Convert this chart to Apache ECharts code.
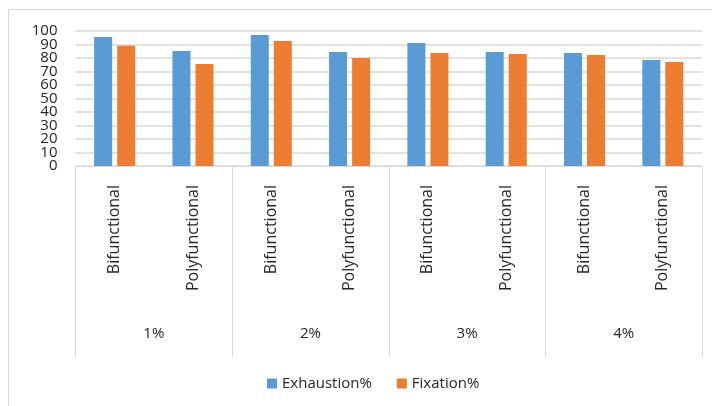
<!DOCTYPE html>
<html>
<head>
<meta charset="utf-8">
<script src="https://cdn.jsdelivr.net/npm/echarts@6/dist/echarts.min.js"></script>
<style>html,body{margin:0;padding:0;background:#fff;}#c{width:712px;height:406px;}</style>
</head>
<body>
<div id="c"></div>
<script>
const subCategories = ['Bifunctional','Polyfunctional','Bifunctional','Polyfunctional','Bifunctional','Polyfunctional','Bifunctional','Polyfunctional'];
const groups = ['1%','2%','3%','4%'];
const exhaustion = [95.5, 85.2, 97.0, 84.4, 91.1, 84.4, 83.7, 78.5];
const fixation = [89.0, 75.6, 92.6, 80.0, 83.7, 83.0, 82.2, 77.0];
const yTicks = [0,10,20,30,40,50,60,70,80,90,100];

const FONT = 'Open Sans';
const TXT = '#262626';
const yLabelStyle = {fontSize: 15, color: TXT, fontFamily: FONT, margin: 18};
const chart = echarts.init(document.getElementById('c'), null, {renderer:'canvas'});
chart.setOption({
  animation: false,
  textStyle: {fontFamily: FONT},
  graphic: [{
    type: 'rect', shape: {x: 8.5, y: 9.5, width: 800, height: 600},
    style: {fill: 'none', stroke: '#d9d9d9', lineWidth: 1}, silent: true
  }],
  grid: {left: 75.5, right: 10, top: 31, bottom: 240, containLabel: false},
  legend: {
    data: ['Exhaustion%','Fixation%'],
    top: 371, left: 262,
    itemWidth: 10, itemHeight: 10, itemGap: 25,
    icon: 'rect',
    textStyle: {fontFamily: FONT, fontSize: 15, color: TXT}
  },
  xAxis: [{
    type: 'category', data: subCategories, position: 'bottom',
    axisLine: {show: true, lineStyle: {color: '#d9d9d9', width: 1}},
    axisTick: {show: false},
    axisLabel: {rotate: 90, margin: 19, fontSize: 16, color: TXT, fontFamily: FONT, interval: 0}
  }, {
    type: 'category', data: groups, position: 'bottom',
    axisLine: {show: false},
    axisTick: {show: true, length: 191, interval: 0, lineStyle: {color: '#d9d9d9', width: 1}},
    axisLabel: {margin: 160, fontSize: 15, color: TXT, fontFamily: FONT, interval: 0}
  }],
  yAxis: [{
    type: 'value', position: 'left', min: yTicks[0], max: yTicks[yTicks.length-1], interval: yTicks[1] - yTicks[0],
    axisLine: {show: false}, axisTick: {show: false},
    axisLabel: Object.assign({interval: 0, showMinLabel: false, showMaxLabel: false}, yLabelStyle),
    splitLine: {lineStyle: {color: '#d9d9d9', width: 1.5}}
  }, {
    type: 'value', position: 'left', min: yTicks[0], max: yTicks[yTicks.length-1], interval: yTicks[yTicks.length-1] - yTicks[0],
    axisLine: {show: false}, axisTick: {show: false}, splitLine: {show: false},
    axisLabel: Object.assign({showMinLabel: true, showMaxLabel: true}, yLabelStyle)
  }],
  series: [{
    name: 'Exhaustion%', type: 'bar', data: exhaustion, xAxisIndex: 0, yAxisIndex: 0,
    barWidth: 18, barGap: '28%', itemStyle: {color: '#5b9bd5'}
  }, {
    name: 'Fixation%', type: 'bar', data: fixation, xAxisIndex: 0, yAxisIndex: 0,
    barWidth: 18, itemStyle: {color: '#ed7d31'}
  }]
});
</script>
</body>
</html>
